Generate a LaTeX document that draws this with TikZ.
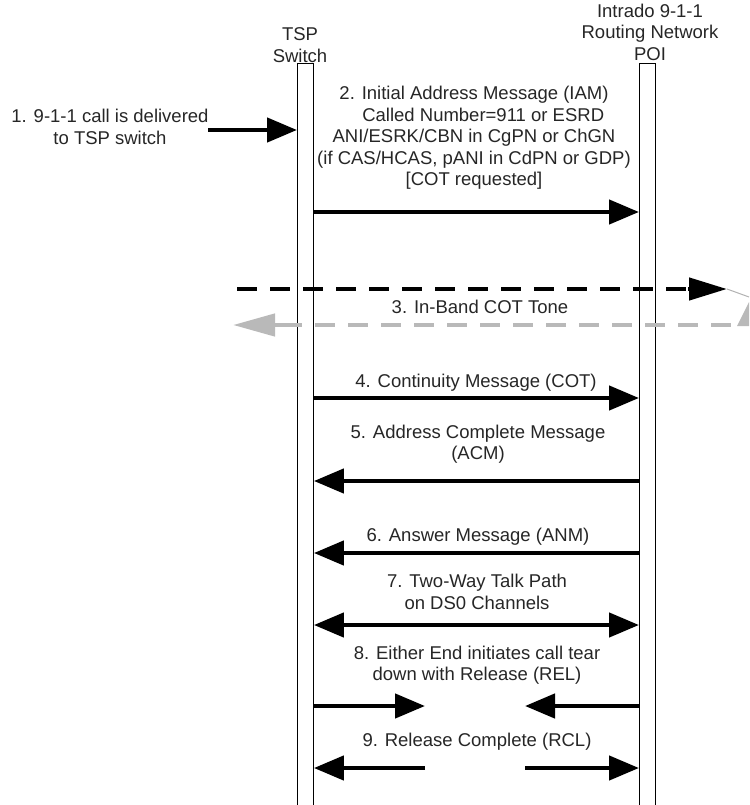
\documentclass[tikz,border=0pt]{standalone}
\usepackage{fontspec}
\setmainfont{Liberation Sans}
\usetikzlibrary{arrows.meta}
\begin{document}
\begin{tikzpicture}[x=1pt,y=-1pt,
  lbl/.style={font=\fontsize{18.5}{21.5}\selectfont, align=center, text=black!85, inner sep=0pt},
  bar/.style={draw, line width=0.9pt, fill=white, minimum width=16pt, minimum height=760pt, anchor=north west, inner sep=0pt},
  msg/.style={line width=4.5pt, -{Triangle[length=30pt,width=24pt]}},
  twoway/.style={line width=4.5pt, {Triangle[length=30pt,width=24pt]}-{Triangle[length=30pt,width=24pt]}},
  tone/.style={line width=4.5pt, dash pattern=on 20pt off 13pt},
]
\useasboundingbox (0,0) rectangle (749,805);

% lifelines
\node[bar] (tsp) at (297,63) {};
\node[bar] (poi) at (639,63) {};

% headers
\node[lbl] (tsph) at (300,45) {TSP\\Switch};
\node[lbl] (poih) at (650,32) {Intrado 9-1-1\\Routing Network\\POI};

% 1. call delivered
\node[lbl] (s1) at (110,127) {1. 9-1-1 call is delivered\\to TSP switch};
\coordinate (s1a) at (208,130);
\draw[msg] (s1a) -- (s1a -| tsp.west);

% 2. IAM
\node[lbl] (s2) at (474,138) {2. Initial Address Message (IAM)\\\quad Called Number=911 or ESRD\\ANI/ESRK/CBN in CgPN or ChGN\\(if CAS/HCAS, pANI in CdPN or GDP)\\{[COT requested]}};
\coordinate (y2) at (0,212);
\draw[msg] (y2 -| tsp.east) -- (y2 -| poi.west);

% 3. in-band COT tone
\coordinate (t3a) at (237,289);
\coordinate (t3b) at (727,289);
\draw[tone] (t3a) -- (690,289);
\draw[line width=4.5pt, -{Triangle[length=38pt,width=22pt]}] (688,289) -- (t3b);
\draw[gray!60, line width=1pt] (t3b) -- (749,297);
\node[lbl] (s3) at (480,307) {3. In-Band COT Tone};
\coordinate (t3c) at (233,325);
\coordinate (t3d) at (735,325);
\draw[tone, gray!55] (282,325) -- (t3d);
\draw[gray!55, line width=4.5pt, -{Triangle[length=42pt,width=22pt]}] (284,325) -- (t3c);
\fill[gray!55] (749,302) -- (749,326) -- (737,326) -- cycle;

% 4. COT
\node[lbl] (s4) at (476,383) {4. Continuity Message (COT)};
\coordinate (y4) at (0,398);
\draw[msg] (y4 -| tsp.east) -- (y4 -| poi.west);

% 5. ACM
\node[lbl] (s5) at (478,444) {5. Address Complete Message\\(ACM)};
\coordinate (y5) at (0,481);
\draw[msg] (y5 -| poi.west) -- (y5 -| tsp.east);

% 6. ANM
\node[lbl] (s6) at (478,537) {6. Answer Message (ANM)};
\coordinate (y6) at (0,553);
\draw[msg] (y6 -| poi.west) -- (y6 -| tsp.east);

% 7. talk path
\node[lbl] (s7) at (477,592) {7. Two-Way Talk Path\\on DS0 Channels};
\coordinate (y7) at (0,625);
\draw[twoway] (y7 -| tsp.east) -- (y7 -| poi.west);

% 8. REL
\node[lbl] (s8) at (477,665) {8. Either End initiates call tear\\down with Release (REL)};
\coordinate (r8a) at (425,706);
\coordinate (r8b) at (525,706);
\draw[msg] (r8a -| tsp.east) -- (r8a);
\draw[msg] (r8b -| poi.west) -- (r8b);

% 9. RCL
\node[lbl] (s9) at (477,742) {9. Release Complete (RCL)};
\coordinate (r9a) at (425,768);
\coordinate (r9b) at (525,768);
\draw[msg] (r9a) -- (r9a -| tsp.east);
\draw[msg] (r9b) -- (r9b -| poi.west);
\end{tikzpicture}
\end{document}
